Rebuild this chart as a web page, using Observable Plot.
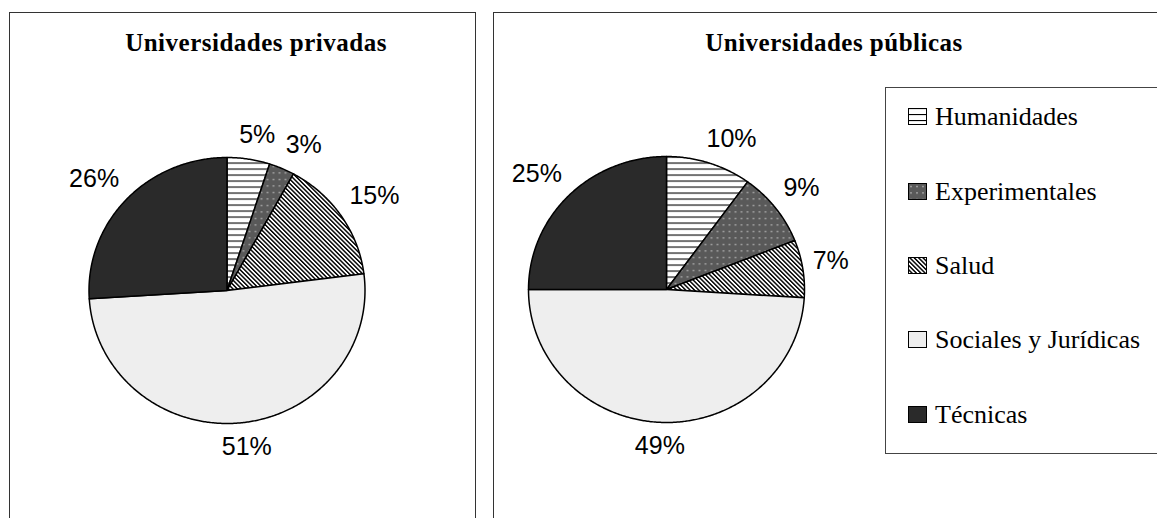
<!DOCTYPE html>
<html>
<head>
<meta charset="utf-8">
<script src="https://cdn.jsdelivr.net/npm/d3@7"></script>
<script src="https://cdn.jsdelivr.net/npm/@observablehq/plot@0.6"></script>
<style>
  html, body { margin: 0; padding: 0; background: #fff; }
  #root { position: relative; width: 1157px; height: 518px; overflow: hidden; background: #fff; }
  .panel { position: absolute; border: 1px solid #333; border-bottom: none; background: #fff; box-sizing: border-box; }
  .title { position: absolute; font-family: "Liberation Serif", "Times New Roman", serif; font-weight: bold;
           font-size: 25px; letter-spacing: 0.5px; white-space: nowrap; transform: translateX(-50%); line-height: 1; color: #000; }
  .legend { position: absolute; border: 1px solid #444; background: #fff; box-sizing: border-box; }
  .item { position: absolute; display: flex; align-items: center; font-family: "Liberation Serif", "Times New Roman", serif;
          font-size: 26px; color: #000; white-space: nowrap; transform: translateY(-50%); }
  .item svg { margin-right: 7px; }
</style>
</head>
<body>
<svg width="0" height="0" style="position:absolute">
  <defs>
    <pattern id="pat-hum" patternUnits="userSpaceOnUse" width="6" height="6">
      <rect width="6" height="6" fill="#fff"/>
      <rect x="0" y="0" width="6" height="1.1" fill="#000"/>
    </pattern>
    <pattern id="pat-exp" patternUnits="userSpaceOnUse" width="6" height="6.5">
      <rect width="6" height="6.5" fill="#595959"/>
      <rect x="2" y="3" width="2" height="1" fill="#bdbdbd"/>
    </pattern>
    <pattern id="pat-sal" patternUnits="userSpaceOnUse" width="3.1" height="3.1" patternTransform="rotate(-45)">
      <rect width="3.1" height="3.1" fill="#fff"/>
      <rect x="0" y="0" width="1.45" height="3.1" fill="#000"/>
    </pattern>
  </defs>
</svg>
<div id="root"></div>
<script>
// ---- data ----
const categories = ["Humanidades", "Experimentales", "Salud", "Sociales y Jurídicas", "Técnicas"];
const privadas = [5, 3, 15, 51, 26];
const publicas = [10, 9, 7, 49, 25];
const chartTitles = ["Universidades privadas", "Universidades públicas"];

// ---- styles ----
const fills = ["url(#pat-hum)", "url(#pat-exp)", "url(#pat-sal)", "#eeeeee", "#2a2a2a"];
const W = 1157, H = 518;
const RX = 138, RY = 133;
const FONT_LABEL = 25;

const root = document.getElementById("root");

function addDiv(cls, styles, text) {
  const d = document.createElement("div");
  d.className = cls;
  Object.assign(d.style, styles);
  if (text != null) d.textContent = text;
  root.appendChild(d);
  return d;
}
addDiv("panel", {left: "9px", top: "12px", width: "467px", height: "520px"});
addDiv("panel", {left: "493px", top: "12px", width: "700px", height: "520px"});
addDiv("title", {left: "256px", top: "30px"}, chartTitles[0]);
addDiv("title", {left: "834px", top: "30px"}, chartTitles[1]);

const clamp = v => Math.max(-1, Math.min(1, v));

function piePlot(values, cx, cy) {
  const arcs = d3.pie().sort(null).value(d => d)(values);
  const pts = [];
  arcs.forEach((a, i) => {
    const cat = categories[i];
    pts.push({cat, x: 0, y: 0});
    const n = Math.max(2, Math.ceil((a.endAngle - a.startAngle) / (Math.PI / 360)));
    for (let k = 0; k <= n; k++) {
      const t = a.startAngle + (a.endAngle - a.startAngle) * k / n;
      pts.push({cat, x: Math.sin(t), y: Math.cos(t)});
    }
  });
  const gap = 10, lh = 28;
  const labels = arcs.map((a, i) => {
    const m = (a.startAngle + a.endAngle) / 2;
    const sx = Math.sin(m), sy = Math.cos(m);
    const text = `${values[i]}%`;
    const w = FONT_LABEL * (0.556 * (text.length - 1) + 0.889);
    return {
      text,
      x: sx + (sx * gap + clamp(2.5 * sx) * w / 2) / RX,
      y: sy + (sy * gap + clamp(3 * sy) * lh / 2) / RY
    };
  });
  const svg = Plot.plot({
    width: W, height: H, margin: 0,
    x: {domain: [-1, 1], range: [cx - RX, cx + RX], axis: null},
    y: {domain: [-1, 1], range: [cy + RY, cy - RY], axis: null},
    color: {type: "ordinal", domain: categories, range: fills},
    style: {background: "transparent", overflow: "visible"},
    marks: [
      Plot.line(pts, {x: "x", y: "y", z: "cat", fill: "cat", stroke: "#000", strokeWidth: 1.5,
                      strokeLinejoin: "round", curve: "linear-closed"}),
      Plot.text(labels, {x: "x", y: "y", text: "text", fontSize: FONT_LABEL,
                         fontFamily: "Liberation Sans, Arial, sans-serif", fill: "#000"})
    ]
  });
  svg.style.position = "absolute";
  svg.style.left = "0px";
  svg.style.top = "0px";
  svg.style.maxWidth = "none";
  return svg;
}

root.appendChild(piePlot(privadas, 226.5, 290));
root.appendChild(piePlot(publicas, 666, 289));

// legend
addDiv("legend", {left: "885px", top: "87px", width: "300px", height: "367px"});
const itemY = [117, 192, 266, 340, 415];
categories.forEach((c, i) => {
  const it = document.createElement("div");
  it.className = "item";
  it.style.left = "908px";
  it.style.top = itemY[i] + "px";
  const ns = "http://www.w3.org/2000/svg";
  const s = document.createElementNS(ns, "svg");
  s.setAttribute("width", "20"); s.setAttribute("height", "18");
  const r = document.createElementNS(ns, "rect");
  r.setAttribute("x", "0.5"); r.setAttribute("y", "0.5");
  r.setAttribute("width", "18"); r.setAttribute("height", "16");
  r.setAttribute("fill", fills[i]); r.setAttribute("stroke", "#000"); r.setAttribute("stroke-width", "1");
  s.appendChild(r);
  it.appendChild(s);
  const t = document.createElement("span");
  t.textContent = c;
  it.appendChild(t);
  root.appendChild(it);
});
</script>
</body>
</html>
